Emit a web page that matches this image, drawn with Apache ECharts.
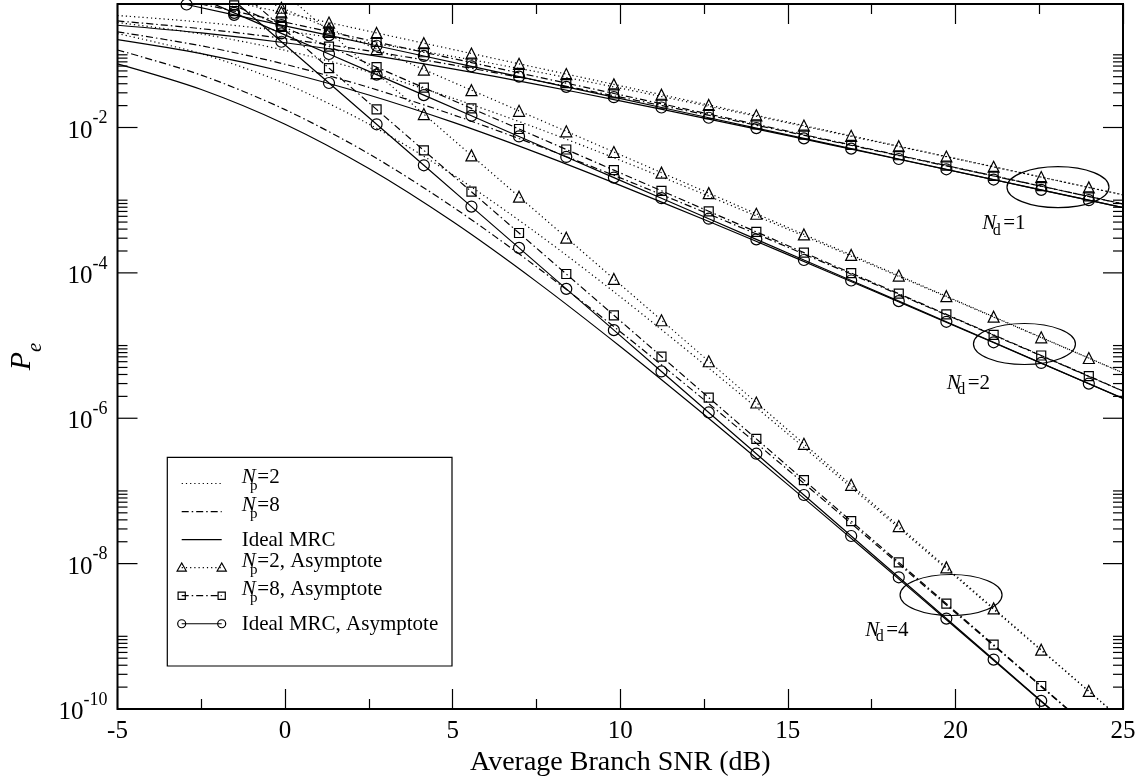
<!DOCTYPE html>
<html>
<head>
<meta charset="utf-8">
<title>Pe vs average branch SNR</title>
<script src="https://cdn.jsdelivr.net/npm/echarts@6.0.0/dist/echarts.min.js"></script>
<style>
  html, body { margin: 0; padding: 0; background: #fff; }
  #chart { width: 1141px; height: 776px; }
</style>
</head>
<body>
<div id="chart"></div>
<script>
// SNR grid (dB) of the plain curves and of the asymptote lines (last point has no marker)
var snrCurve = [-5, -2.5, 0, 2.5, 5, 7.5, 10, 12.5, 15, 17.5, 20, 22.5, 25];
var snrAsym = [-2.94, -1.52, -0.11, 1.31, 2.73, 4.14, 5.56, 6.98, 8.39, 9.81, 11.23, 12.64,
  14.06, 15.48, 16.89, 18.31, 19.73, 21.14, 22.56, 23.98, 25];

// plain curves, Nd = 1
var np2Nd1 = [0.3475, 0.2818, 0.2113, 0.1466, 0.09503, 0.05850, 0.03476, 0.02019, 0.01157, 0.006576, 0.003721, 0.002099, 0.001183];
var np8Nd1 = [0.2925, 0.2287, 0.1667, 0.1133, 0.07255, 0.04433, 0.02622, 0.01519, 0.008693, 0.004937, 0.002792, 0.001575, 8.873e-4];
var mrcNd1 = [0.2549, 0.2000, 0.1464, 0.09998, 0.06418, 0.03929, 0.02327, 0.01349, 0.007723, 0.004387, 0.002481, 0.001400, 7.887e-4];
// Nd = 2
var np2Nd2 = [0.2783, 0.1934, 0.1151, 0.05817, 0.02537, 0.009866, 0.003540, 0.001207, 3.985e-4, 1.292e-4, 4.143e-5, 1.320e-5, 4.194e-6];
var np8Nd2 = [0.2067, 0.1330, 0.07407, 0.03563, 0.01503, 0.005720, 0.002027, 6.855e-4, 2.254e-4, 7.288e-5, 2.334e-5, 7.435e-6, 2.361e-6];
var mrcNd2 = [0.1618, 0.1040, 0.05806, 0.02799, 0.01183, 0.004509, 0.001599, 5.412e-4, 1.780e-4, 5.758e-5, 1.844e-5, 5.874e-6, 1.865e-6];
// Nd = 4
var np2Nd4 = [0.1957, 0.1036, 0.04026, 0.01114, 0.002253, 3.551e-4, 4.695e-5, 5.539e-6, 6.098e-7, 6.442e-8, 6.647e-9, 6.764e-10, 6.83e-11];
var np8Nd4 = [0.1166, 0.05253, 0.01763, 0.004348, 8.108e-4, 1.213e-4, 1.553e-5, 1.798e-6, 1.957e-7, 2.055e-8, 2.113e-9, 2.146e-10, 2.165e-11];
var mrcNd4 = [0.07519, 0.03336, 0.01110, 0.002726, 5.073e-4, 7.578e-5, 9.698e-6, 1.123e-6, 1.222e-7, 1.283e-8, 1.319e-9, 1.340e-10, 1.352e-11];

// asymptotes
var np2AsNd1 = [0.7380, 0.5322, 0.3846, 0.2774, 0.2000, 0.1446, 0.1043, 0.07517, 0.05433, 0.03918, 0.02826, 0.02042, 0.01472, 0.01062, 0.007676, 0.005534, 0.003990, 0.002885, 0.002079, 0.001500, 0.001186];
var np8AsNd1 = [0.5535, 0.3992, 0.2885, 0.2080, 0.1500, 0.1084, 0.07819, 0.05637, 0.04075, 0.02939, 0.02120, 0.01531, 0.01104, 0.007964, 0.005757, 0.004150, 0.002993, 0.002163, 0.001559, 0.001125, 8.894e-4];
var mrcAsNd1 = [0.4920, 0.3548, 0.2564, 0.1849, 0.1333, 0.09637, 0.06950, 0.05011, 0.03622, 0.02612, 0.01884, 0.01361, 0.009816, 0.007079, 0.005117, 0.003689, 0.002660, 0.001923, 0.001386, 0.001000, 7.906e-4];
var np2AsNd2 = [1.634, 0.8496, 0.4437, 0.2309, 0.1200, 0.06269, 0.03260, 0.01695, 0.008856, 0.004604, 0.002394, 0.001251, 6.505e-4, 3.382e-4, 1.767e-4, 9.187e-5, 4.777e-5, 2.495e-5, 1.298e-5, 6.748e-6, 4.219e-6];
var np8AsNd2 = [0.9190, 0.4779, 0.2496, 0.1299, 0.06750, 0.03526, 0.01834, 0.009535, 0.004982, 0.002589, 0.001347, 7.036e-4, 3.659e-4, 1.902e-4, 9.938e-5, 5.168e-5, 2.687e-5, 1.404e-5, 7.300e-6, 3.796e-6, 2.373e-6];
var mrcAsNd2 = [0.7261, 0.3776, 0.1972, 0.1026, 0.05333, 0.02786, 0.01449, 0.007534, 0.003936, 0.002046, 0.001064, 5.559e-4, 2.891e-4, 1.503e-4, 7.852e-5, 4.083e-5, 2.123e-5, 1.109e-5, 5.768e-6, 2.999e-6, 1.875e-6];
var np2AsNd4 = [10.38, 2.808, 0.7660, 0.2072, 0.05604, 0.01529, 0.004134, 0.001118, 3.051e-4, 8.247e-5, 2.231e-5, 6.085e-6, 1.646e-6, 4.450e-7, 1.214e-7, 3.284e-8, 8.880e-9, 2.423e-9, 6.551e-10, 1.771e-10, 6.925e-11];
var np8AsNd4 = [3.285, 0.8884, 0.2424, 0.06556, 0.01773, 0.004837, 0.001308, 3.537e-4, 9.652e-5, 2.609e-5, 7.058e-6, 1.925e-6, 5.207e-7, 1.408e-7, 3.843e-8, 1.039e-8, 2.810e-9, 7.666e-10, 2.073e-10, 5.605e-11, 2.191e-11];
var mrcAsNd4 = [2.051, 0.5546, 0.1513, 0.04093, 0.01107, 0.003020, 8.166e-4, 2.208e-4, 6.026e-5, 1.629e-5, 4.406e-6, 1.202e-6, 3.251e-7, 8.790e-8, 2.399e-8, 6.486e-9, 1.754e-9, 4.786e-10, 1.294e-10, 3.499e-11, 1.368e-11];

// y ticks: labelled decades and the minor multipliers drawn above each of them
var yMajorExp = [-10, -8, -6, -4, -2];
var yMinorMult = [2, 3, 4, 5, 6, 7, 8, 9, 10];

// group annotations: [snr, Pe] of the N_d label and of the ellipse centre
var groupNames = ["1", "2", "4"];
var groupLabelAt = [[20.80, 4.73e-4], [19.74, 2.99e-6], [17.31, 1.21e-9]];
var groupEllipseAt = [[23.06, 1.51e-3], [22.06, 1.05e-5], [19.87, 3.70e-9]];

// legend rows: [sub-scripted?, after-text, dash, marker]
var legendRows = [
  [true, "=2", "dotted", null],
  [true, "=8", "dashdot", null],
  [false, "Ideal MRC", "solid", null],
  [true, "=2, Asymptote", "dotted", "triangle"],
  [true, "=8, Asymptote", "dashdot", "square"],
  [false, "Ideal MRC, Asymptote", "solid", "circle"]
];

var FONT = "Liberation Serif, Times New Roman, serif";
var DASH = { dotted: [1.2, 3], dashdot: [7, 3, 1.5, 3], solid: "solid" };

function pairs(xs, ys, lastBare) {
  return ys.map(function (y, i) {
    if (lastBare && i === ys.length - 1) return { value: [xs[i], y], symbol: "none" };
    return [xs[i], y];
  });
}

function curve(name, ys, dash) {
  return {
    name: name, type: "line", data: pairs(snrCurve, ys, false),
    smooth: 0.3, symbol: "none", silent: true,
    lineStyle: { color: "#000", width: 1.2, type: DASH[dash] },
    itemStyle: { color: "rgba(0,0,0,0)" }
  };
}

function asym(name, ys, dash, sym, size) {
  return {
    name: name, type: "line", data: pairs(snrAsym, ys, true),
    symbol: sym, symbolSize: size, showSymbol: true, silent: true,
    lineStyle: { color: "#000", width: 1.2, type: DASH[dash] },
    itemStyle: { color: "rgba(0,0,0,0)", borderColor: "#000", borderWidth: 1.2 }
  };
}

var tickData = [];
yMajorExp.forEach(function (e) {
  tickData.push([-5, Math.pow(10, e), 20]);
  yMinorMult.forEach(function (k) { tickData.push([-5, k * Math.pow(10, e), 10]); });
});

var chart = echarts.init(document.getElementById("chart"), null, { renderer: "canvas" });

var option = {
  animation: false,
  backgroundColor: "#fff",
  textStyle: { fontFamily: FONT, color: "#000" },
  grid: {
    left: 117.5, right: 18, top: 4, bottom: 67,
    show: true, borderColor: "#000", borderWidth: 2, backgroundColor: "transparent",
    outerBoundsMode: "none"
  },
  xAxis: [{
    type: "value", min: -5, max: 25, interval: 5,
    name: "Average Branch SNR (dB)", nameLocation: "middle", nameGap: 36,
    nameTextStyle: { fontFamily: FONT, fontSize: 28, color: "#000" },
    axisLine: { show: false },
    axisTick: { inside: true, length: 20, lineStyle: { color: "#000", width: 1.2 } },
    minorTick: { show: true, splitNumber: 2, length: 10, lineStyle: { color: "#000", width: 1.2 } },
    splitLine: { show: false },
    axisLabel: { fontFamily: FONT, fontSize: 25, color: "#000", margin: 10,
      formatter: function (v) { return String(v); } }
  }, {
    type: "value", position: "top", min: -5, max: 25, interval: 5,
    axisLine: { show: false },
    axisTick: { inside: true, length: 20, lineStyle: { color: "#000", width: 1.2 } },
    minorTick: { show: true, splitNumber: 2, length: 10, lineStyle: { color: "#000", width: 1.2 } },
    splitLine: { show: false },
    axisLabel: { show: false }
  }],
  yAxis: {
    type: "log", logBase: 10, min: 1e-10, max: 0.5,
    name: "{p|P}{e|e}", nameLocation: "middle", nameGap: 72, nameRotate: 90,
    nameTextStyle: {
      rich: {
        p: { fontFamily: FONT, fontSize: 30, fontStyle: "italic", height: 30, lineHeight: 38, verticalAlign: "top", color: "#000" },
        e: { fontFamily: FONT, fontSize: 21, fontStyle: "italic", height: 20, verticalAlign: "bottom", color: "#000" }
      }
    },
    axisLine: { show: false },
    axisTick: { show: false },
    splitLine: { show: false },
    axisLabel: {
      margin: 10,
      formatter: function (v) {
        var e = Math.round(Math.log10(v));
        if (Math.abs(Math.log10(v) - e) > 1e-6 || e % 2 !== 0) return "";
        return "{b|10}{s|" + e + "}";
      },
      rich: {
        b: { fontFamily: FONT, fontSize: 25, height: 25, lineHeight: 32, verticalAlign: "bottom", color: "#000" },
        s: { fontFamily: FONT, fontSize: 18, height: 14, verticalAlign: "top", color: "#000" }
      }
    }
  },
  series: [
    curve("Np=2", np2Nd1, "dotted"),
    curve("Np=8", np8Nd1, "dashdot"),
    curve("Ideal MRC", mrcNd1, "solid"),
    curve("Np=2", np2Nd2, "dotted"),
    curve("Np=8", np8Nd2, "dashdot"),
    curve("Ideal MRC", mrcNd2, "solid"),
    curve("Np=2", np2Nd4, "dotted"),
    curve("Np=8", np8Nd4, "dashdot"),
    curve("Ideal MRC", mrcNd4, "solid"),
    asym("Np=2, Asymptote", np2AsNd1, "dotted", "triangle", 11),
    asym("Np=8, Asymptote", np8AsNd1, "dashdot", "rect", 9),
    asym("Ideal MRC, Asymptote", mrcAsNd1, "solid", "circle", 11),
    asym("Np=2, Asymptote", np2AsNd2, "dotted", "triangle", 11),
    asym("Np=8, Asymptote", np8AsNd2, "dashdot", "rect", 9),
    asym("Ideal MRC, Asymptote", mrcAsNd2, "solid", "circle", 11),
    asym("Np=2, Asymptote", np2AsNd4, "dotted", "triangle", 11),
    asym("Np=8, Asymptote", np8AsNd4, "dashdot", "rect", 9),
    asym("Ideal MRC, Asymptote", mrcAsNd4, "solid", "circle", 11),
    {
      name: "yticks", type: "custom", data: tickData, silent: true, z: 5,
      renderItem: function (params, api) {
        var v = api.value(1), len = api.value(2);
        var pl = api.coord([-5, v]), pr = api.coord([25, v]);
        var st = { stroke: "#000", lineWidth: 1.2 };
        return { type: "group", children: [
          { type: "line", shape: { x1: pl[0], y1: pl[1], x2: pl[0] + len, y2: pl[1] }, style: st },
          { type: "line", shape: { x1: pr[0] - len, y1: pr[1], x2: pr[0], y2: pr[1] }, style: st }
        ] };
      }
    }
  ]
};

chart.setOption(option);

// ---- annotations and legend box ----
var graphics = [];
var inkStyle = { fill: "none", stroke: "#000", lineWidth: 1.2 };

function txt(x, y, s, size, italic) {
  return { type: "text", x: x, y: y, silent: true, z: 30,
    style: { text: s, fill: "#000", align: "left", verticalAlign: "middle",
      font: (italic ? "italic " : "") + size + "px " + FONT } };
}

function marker(kind, x, y) {
  if (kind === "triangle") {
    return { type: "polygon", z: 30, silent: true, style: inkStyle,
      shape: { points: [[x, y - 4.6], [x - 4.6, y + 3.4], [x + 4.6, y + 3.4]] } };
  }
  if (kind === "square") {
    return { type: "rect", z: 30, silent: true, style: inkStyle,
      shape: { x: x - 3.6, y: y - 3.6, width: 7.2, height: 7.2 } };
  }
  return { type: "circle", z: 30, silent: true, style: inkStyle, shape: { cx: x, cy: y, r: 4 } };
}

groupEllipseAt.forEach(function (g) {
  var p = chart.convertToPixel({ seriesIndex: 0 }, g);
  graphics.push({ type: "ellipse", shape: { cx: p[0], cy: p[1], rx: 51, ry: 20.5 },
    style: inkStyle, silent: true, z: 10 });
});
groupLabelAt.forEach(function (g, i) {
  var p = chart.convertToPixel({ seriesIndex: 0 }, g);
  graphics.push(txt(p[0], p[1], "N", 21, true));
  graphics.push(txt(p[0] + 10.6, p[1] + 6.5, "d", 16, false));
  graphics.push(txt(p[0] + 21, p[1], "=" + groupNames[i], 21, false));
});

// legend frame and rows
var box = { x: 167.3, y: 457.3, w: 284.7, h: 208.7 };
graphics.push({ type: "rect", z: 25, silent: true,
  shape: { x: box.x, y: box.y, width: box.w, height: box.h },
  style: { fill: "#fff", stroke: "#000", lineWidth: 1.2 } });
legendRows.forEach(function (row, i) {
  var ry = 483.5 + 28.05 * i;
  var x0 = 181.7, x1 = 221.7, tx = 241.7;
  graphics.push({ type: "line", z: 30, silent: true,
    shape: { x1: x0, y1: ry, x2: x1, y2: ry },
    style: { stroke: "#000", lineWidth: 1.2, lineDash: row[2] === "solid" ? null : DASH[row[2]] } });
  if (row[3]) {
    graphics.push(marker(row[3], x0, ry));
    graphics.push(marker(row[3], x1, ry));
  }
  if (row[0]) {
    graphics.push(txt(tx, ry - 6.3, "N", 21, true));
    graphics.push(txt(tx + 8.3, ry + 2.5, "p", 15, false));
    graphics.push(txt(tx + 15.6, ry - 6.3, row[1], 21, false));
  } else {
    graphics.push(txt(tx, ry + 0.5, row[1], 21, false));
  }
});

chart.setOption({ graphic: graphics });
</script>
</body>
</html>
